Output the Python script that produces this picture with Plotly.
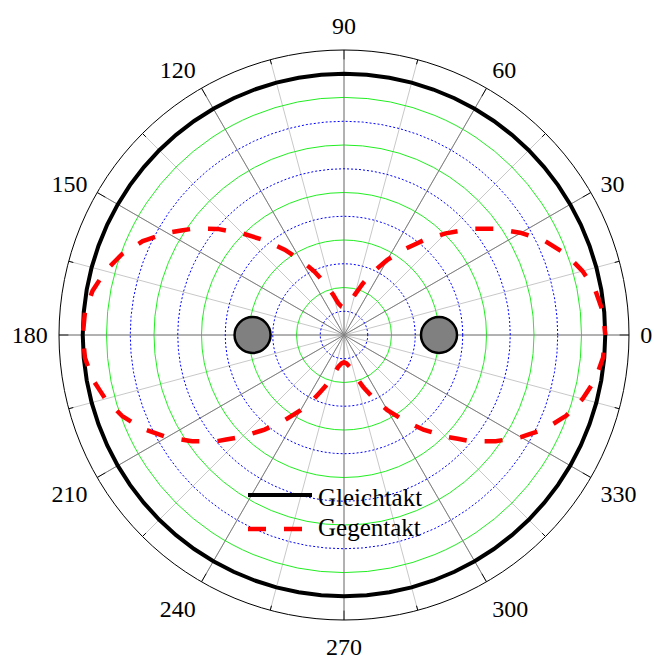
import plotly.graph_objects as go

# ---- data ----
theta_deg = list(range(0, 361, 5))
gleichtakt_r = [11.0] * len(theta_deg)
gegentakt_r = [
    11.0, 10.95, 10.75, 10.4, 9.95, 9.35, 8.6, 7.8, 6.95, 6.05, 5.2, 4.4, 3.65, 2.95, 2.3, 1.75, 1.35, 1.2, 1.15,
    1.2, 1.35, 1.75, 2.3, 2.95, 3.65, 4.4, 5.2, 6.05, 6.95, 7.8, 8.6, 9.35, 9.95, 10.4, 10.75, 10.95, 11.0,
    10.95, 10.75, 10.4, 9.95, 9.35, 8.6, 7.8, 6.95, 6.05, 5.2, 4.4, 3.65, 2.95, 2.3, 1.75, 1.35, 1.2, 1.15,
    1.2, 1.35, 1.75, 2.3, 2.95, 3.65, 4.4, 5.2, 6.05, 6.95, 7.8, 8.6, 9.35, 9.95, 10.4, 10.75, 10.95, 11.0,
]
conductor_theta = [0, 180]
conductor_r = [4.0, 3.85]
angle_ticks = list(range(0, 360, 15))
angle_labels = [str(a) if a % 30 == 0 else "" for a in angle_ticks]
major_angles = list(range(0, 360, 30))
minor_angles = list(range(15, 360, 30))
green_rings = [2, 4, 6, 8, 10]
blue_rings = [1, 3, 5, 7, 9]
r_max = 12

FONT = "Liberation Serif"

fig = go.Figure()

# dark radial lines at 30° multiples
th, rr = [], []
for a in major_angles:
    th += [a, a, None]
    rr += [0, r_max - 0.4, None]
fig.add_trace(go.Scatterpolar(theta=th, r=rr, mode="lines",
                              line=dict(color="#808080", width=1),
                              hoverinfo="skip", showlegend=False))

# blue dotted rings
for rb in blue_rings:
    fig.add_trace(go.Scatterpolar(theta=theta_deg, r=[rb] * len(theta_deg), mode="lines",
                                  line=dict(color="#0000ff", width=1, dash="2px,2px"),
                                  hoverinfo="skip", showlegend=False))

# tick marks (inside)
th, rr = [], []
for a in major_angles:
    th += [a, a, None]
    rr += [r_max - 0.4, r_max, None]
for a in minor_angles:
    th += [a, a, None]
    rr += [r_max - 0.2, r_max, None]
fig.add_trace(go.Scatterpolar(theta=th, r=rr, mode="lines",
                              line=dict(color="black", width=1),
                              hoverinfo="skip", showlegend=False))

# Gleichtakt
fig.add_trace(go.Scatterpolar(theta=theta_deg, r=gleichtakt_r, mode="lines",
                              name="Gleichtakt",
                              line=dict(color="black", width=4),
                              showlegend=False))
# Gegentakt
fig.add_trace(go.Scatterpolar(theta=theta_deg, r=gegentakt_r, mode="lines",
                              name="Gegentakt",
                              line=dict(color="#ff0000", width=4.5, dash="9px,18px,9px,0px"),
                              showlegend=False))
# conductors
fig.add_trace(go.Scatterpolar(theta=conductor_theta, r=conductor_r, mode="markers",
                              marker=dict(size=36, color="#808080",
                                          line=dict(color="black", width=2.5)),
                              hoverinfo="skip", showlegend=False))

# manual legend (paper coords: plot area 570x570 px)
def px(x):
    return (x - 59) / 570.0

def py(y):
    return (620 - y) / 570.0

fig.add_shape(type="line", xref="paper", yref="paper",
              x0=px(248), x1=px(312), y0=py(495), y1=py(495),
              line=dict(color="black", width=4))
fig.add_shape(type="line", xref="paper", yref="paper",
              x0=px(248), x1=px(303), y0=py(529), y1=py(529),
              line=dict(color="#ff0000", width=4.5, dash="18px,18px"))
fig.add_annotation(xref="paper", yref="paper", x=px(316), y=py(497),
                   text="Gleichtakt", showarrow=False, xanchor="left", yanchor="middle",
                   font=dict(family=FONT, size=25, color="black"))
fig.add_annotation(xref="paper", yref="paper", x=px(316), y=py(527),
                   text="Gegentakt", showarrow=False, xanchor="left", yanchor="middle",
                   font=dict(family=FONT, size=25, color="black"))

fig.update_layout(
    width=654, height=660, autosize=False,
    margin=dict(l=59, r=25, t=50, b=40),
    paper_bgcolor="white",
    font=dict(family=FONT, size=24, color="black"),
    polar=dict(
        bgcolor="white",
        domain=dict(x=[0, 1], y=[0, 1]),
        radialaxis=dict(range=[0, r_max], tickvals=green_rings, showticklabels=False,
                        ticks="", showline=False, gridcolor="#22ee22", gridwidth=1),
        angularaxis=dict(rotation=0, direction="counterclockwise",
                         tickvals=angle_ticks, ticktext=angle_labels,
                         ticks="outside", ticklen=6, tickcolor="rgba(0,0,0,0)",
                         showline=True, linecolor="black", linewidth=1,
                         gridcolor="#c8c8c8", gridwidth=1,
                         tickfont=dict(family=FONT, size=24, color="black")),
    ),
    showlegend=False,
)

# remove the default page margin so the 654x660 figure fills the window exactly
fig.write_html("out.html",
               config={"displayModeBar": False},
               post_script="document.body.style.margin='0';document.body.style.overflow='hidden';")
